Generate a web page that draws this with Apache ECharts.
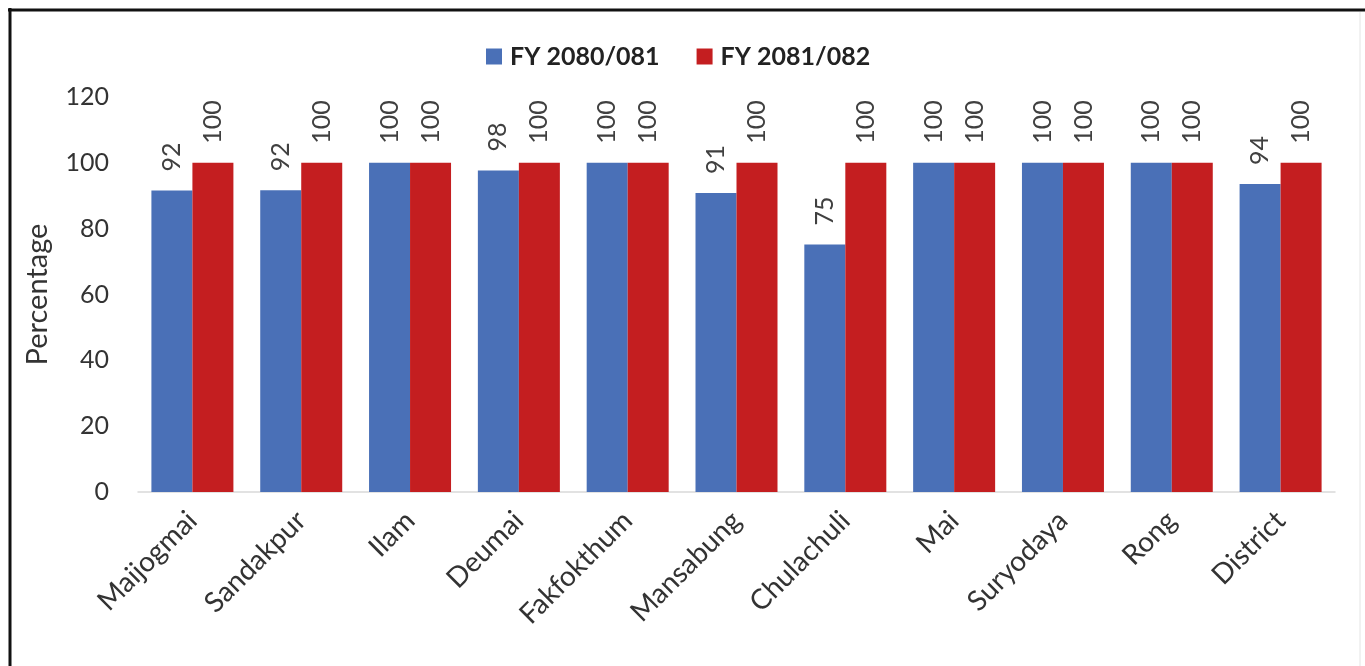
<!DOCTYPE html>
<html>
<head>
<meta charset="utf-8">
<script src="https://cdn.jsdelivr.net/npm/echarts@6/dist/echarts.min.js"></script>
<style>
html,body{margin:0;padding:0;background:#fff;}
#c{width:1365px;height:666px;}
</style>
</head>
<body>
<div id="c"></div>
<script>
var categories = ['Maijogmai','Sandakpur','Ilam','Deumai','Fakfokthum','Mansabung','Chulachuli','Mai','Suryodaya','Rong','District'];
var seriesNames = ['FY 2080/081','FY 2081/082'];
var fy2080 = [91.6, 91.7, 100, 97.7, 100, 90.8, 75.2, 100, 100, 100, 93.6];
var fy2081 = [100, 100, 100, 100, 100, 100, 100, 100, 100, 100, 100];
var yTicks = [0, 20, 40, 60, 80, 100, 120];

var FONT = 'Lato, "Open Sans", sans-serif';
var chart = echarts.init(document.getElementById('c'), null, {renderer:'canvas'});
function lbl(){
  return {
    show:true, position:'top', rotate:90, align:'left', verticalAlign:'middle',
    distance:19, fontFamily:FONT, fontSize:25, color:'#404040',
    formatter:function(p){return Math.round(p.value);}
  };
}
chart.setOption({
  animation:false,
  backgroundColor:'#fff',
  graphic:[
    {type:'line', shape:{x1:8,y1:10,x2:1365,y2:10}, style:{stroke:'#111',lineWidth:3}},
    {type:'line', shape:{x1:10,y1:8,x2:10,y2:666}, style:{stroke:'#111',lineWidth:3}},
    {type:'line', shape:{x1:1360,y1:12,x2:1360,y2:666}, style:{stroke:'#e4e4e4',lineWidth:1}}
  ],
  legend:{
    top:39, left:481, itemWidth:16, itemHeight:16, itemGap:37,
    icon:'rect',
    textStyle:{fontFamily:FONT, fontSize:25, fontWeight:'bold', color:'#222', padding:[0,0,0,3]},
    data:seriesNames
  },
  grid:{left:138, right:30, top:97, bottom:174, containLabel:false},
  xAxis:{
    type:'category', data:categories,
    axisLine:{lineStyle:{color:'#d9d9d9', width:1.5}},
    axisTick:{show:false},
    axisLabel:{rotate:45, interval:0, margin:24, fontFamily:FONT, fontSize:28, color:'#333'}
  },
  yAxis:{
    type:'value', min:yTicks[0], max:yTicks[yTicks.length-1], interval:20,
    name:'Percentage', nameLocation:'middle', nameGap:86, nameRotate:90,
    nameTextStyle:{fontFamily:FONT, fontSize:29, color:'#333'},
    axisLine:{show:false}, axisTick:{show:false}, splitLine:{show:false},
    axisLabel:{margin:29, fontFamily:FONT, fontSize:25, color:'#333'}
  },
  series:[
    {name:seriesNames[0], type:'bar', data:fy2080, barWidth:41, barGap:'0%', itemStyle:{color:'#4A70B7'}, label:lbl()},
    {name:seriesNames[1], type:'bar', data:fy2081, barWidth:41, barGap:'0%', itemStyle:{color:'#C41E20'}, label:lbl()}
  ]
});
</script>
</body>
</html>
